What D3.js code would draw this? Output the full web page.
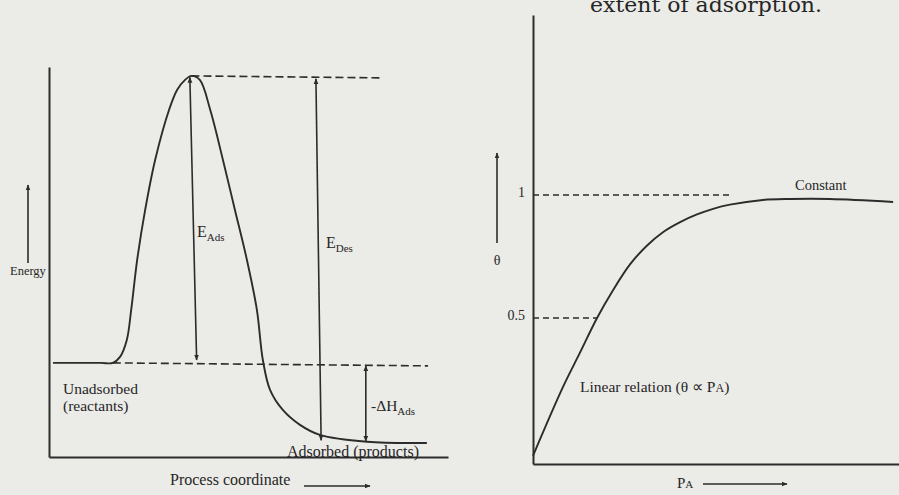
<!DOCTYPE html>
<html>
<head>
<meta charset="utf-8">
<script src="https://cdn.jsdelivr.net/npm/d3@7"></script>
<style>
  html, body { margin: 0; padding: 0; background: #ebebe7; }
  svg { display: block; }
  text { font-family: "Liberation Serif", "Times New Roman", serif; fill: #262626; }
</style>
</head>
<body>
<svg id="fig" width="899" height="495"></svg>
<script>
// ---- Energy profile of adsorption (left panel) ----
const processX = [1, 13, 16.0, 17.8, 19.5, 20.6, 22.1, 24.1, 26.6, 30.1, 32.1, 34.1, 35.7, 37.8, 40.4, 43.6, 46.6, 49.6, 52.1, 53.6, 55.4, 58.6, 62.9, 67.9, 79.7, 94.7];
const energy   = [0, 0, 0, 0.21, 0.80, 1.85, 3.59, 5.33, 7.07, 8.82, 9.51, 9.86, 10, 9.86, 8.82, 7.07, 5.33, 3.59, 1.85, 0.10, -0.94, -1.64, -2.16, -2.51, -2.75, -2.79];
const reactantLevel = 0;
const peakLevel = 10;
const productLevel = -2.75;
const peakX = 35.7;

// ---- Langmuir coverage vs pressure (right panel) ----
const pressure = [0, 8.2, 12.8, 17.5, 21.9, 26.5, 31.1, 35.5, 40.2, 44.8, 49.2, 53.8, 62.8, 70.2, 81.1, 98.4];
const coverage = [-0.06, 0.22, 0.358, 0.5, 0.614, 0.718, 0.794, 0.849, 0.890, 0.921, 0.944, 0.961, 0.980, 0.984, 0.984, 0.972];
const coverageTicks = [0.5, 1];
const coverageTickLabels = ["0.5", "1"];

const ink = "#2c2c2c";
const svg = d3.select("#fig");

// arrowhead marker
const defs = svg.append("defs");
defs.append("marker")
  .attr("id", "head")
  .attr("viewBox", "0 -5 10 10")
  .attr("refX", 9).attr("refY", 0)
  .attr("markerWidth", 6).attr("markerHeight", 6)
  .attr("markerUnits", "userSpaceOnUse")
  .attr("orient", "auto-start-reverse")
  .append("path").attr("d", "M0,-4L10,0L0,4Z").attr("fill", ink);

// caption fragment along the top edge
svg.append("text")
  .attr("x", 590).attr("y", 12)
  .attr("textLength", 232).attr("lengthAdjust", "spacingAndGlyphs")
  .style("font-family", "'DejaVu Serif', serif")
  .style("font-size", "21px")
  .attr("fill", "#333")
  .text("extent of adsorption.");

// ================= LEFT PANEL =================
const xL = d3.scaleLinear().domain([0, 100]).range([49, 448]);
const yE = d3.scaleLinear().domain([-3.28, 10.31]).range([457, 67]);

const gL = svg.append("g");

gL.append("g")
  .attr("transform", `translate(${xL(0)},0)`)
  .call(d3.axisLeft(yE).tickValues([]).tickSizeOuter(0))
  .call(g => g.select(".domain").attr("stroke", ink).attr("stroke-width", 2));
gL.append("g")
  .attr("transform", `translate(0,${yE.range()[0]})`)
  .call(d3.axisBottom(xL).tickValues([]).tickSizeOuter(0))
  .call(g => g.select(".domain").attr("stroke", ink).attr("stroke-width", 2));

// reference dashed levels
gL.append("line")
  .attr("x1", xL(peakX)).attr("x2", xL(83.5))
  .attr("y1", yE(peakLevel)).attr("y2", yE(peakLevel) + 2)
  .attr("stroke", ink).attr("stroke-width", 1.6).attr("stroke-dasharray", "8,4");
gL.append("line")
  .attr("x1", xL(16.0)).attr("x2", xL(95))
  .attr("y1", yE(reactantLevel)).attr("y2", yE(reactantLevel) + 3)
  .attr("stroke", ink).attr("stroke-width", 1.6).attr("stroke-dasharray", "8,4");

// energy curve
gL.append("path")
  .datum(processX.map((x, i) => [x, energy[i]]))
  .attr("fill", "none").attr("stroke", ink).attr("stroke-width", 1.9)
  .attr("d", d3.line().x(d => xL(d[0])).y(d => yE(d[1])).curve(d3.curveCatmullRom.alpha(0.5)));

// double-headed energy arrows
function dblArrow(g, x1, x2, e1, e2) {
  g.append("line")
    .attr("x1", xL(x1)).attr("x2", xL(x2))
    .attr("y1", yE(e1)).attr("y2", yE(e2))
    .attr("stroke", ink).attr("stroke-width", 1.6)
    .attr("marker-start", "url(#head)").attr("marker-end", "url(#head)");
}
dblArrow(gL, 35.3, 37.0, peakLevel - 0.05, reactantLevel + 0.1);
dblArrow(gL, 66.9, 68.2, peakLevel - 0.1, productLevel + 0.05);
dblArrow(gL, 79.4, 79.4, reactantLevel - 0.1, productLevel + 0.02);

// labels
function subLabel(g, x, y, main, sub, size, subSize) {
  const t = g.append("text").attr("x", x).attr("y", y).style("font-size", size + "px");
  t.append("tspan").text(main);
  t.append("tspan").attr("dy", 4).style("font-size", subSize + "px").text(sub);
  return t;
}
subLabel(gL, 197, 237, "E", "Ads", 16, 11);
subLabel(gL, 326, 248, "E", "Des", 16, 11);
subLabel(gL, 371, 411, "-\u0394H", "Ads", 15.5, 11);

gL.append("text").attr("x", 63).attr("y", 394).style("font-size", "15.5px").text("Unadsorbed");
gL.append("text").attr("x", 63).attr("y", 411).style("font-size", "15.5px").text("(reactants)");
gL.append("text").attr("x", 287).attr("y", 457).style("font-size", "16px").text("Adsorbed (products)");

// Energy axis title with upward arrow
gL.append("line")
  .attr("x1", 28).attr("x2", 28).attr("y1", 263).attr("y2", 185)
  .attr("stroke", ink).attr("stroke-width", 1.6).attr("marker-end", "url(#head)");
gL.append("text").attr("x", 10).attr("y", 275).style("font-size", "12.5px").text("Energy");

// Process coordinate title with arrow
gL.append("text").attr("x", 170).attr("y", 485).style("font-size", "16px").text("Process coordinate");
gL.append("line")
  .attr("x1", 304).attr("x2", 370).attr("y1", 486).attr("y2", 486)
  .attr("stroke", ink).attr("stroke-width", 1.4).attr("marker-end", "url(#head)");

// ================= RIGHT PANEL =================
const xP = d3.scaleLinear().domain([0, 100]).range([533, 899]);
const yT = d3.scaleLinear().domain([-0.0935, 1.732]).range([464, 15]);

const gR = svg.append("g");

gR.append("g")
  .attr("transform", `translate(${xP(0)},0)`)
  .call(d3.axisLeft(yT).tickValues(coverageTicks)
    .tickFormat((d, i) => coverageTickLabels[i])
    .tickSize(0).tickPadding(8).tickSizeOuter(0))
  .call(g => g.select(".domain").attr("stroke", ink).attr("stroke-width", 2))
  .call(g => g.selectAll(".tick text")
    .style("font-family", "'Liberation Serif', serif")
    .style("font-size", "14px").attr("fill", "#262626").attr("dy", "0.1em"));
gR.append("g")
  .attr("transform", `translate(0,${yT.range()[0]})`)
  .call(d3.axisBottom(xP).tickValues([]).tickSizeOuter(0))
  .call(g => g.select(".domain").attr("stroke", ink).attr("stroke-width", 2));

// dashed guides at coverage 1 and 0.5
gR.append("line")
  .attr("x1", xP(0)).attr("x2", xP(53.8))
  .attr("y1", yT(1)).attr("y2", yT(1))
  .attr("stroke", ink).attr("stroke-width", 1.5).attr("stroke-dasharray", "6,4");
gR.append("line")
  .attr("x1", xP(0)).attr("x2", xP(17.5))
  .attr("y1", yT(0.5)).attr("y2", yT(0.5))
  .attr("stroke", ink).attr("stroke-width", 1.5).attr("stroke-dasharray", "6,4");

// coverage curve
gR.append("path")
  .datum(pressure.map((p, i) => [p, coverage[i]]))
  .attr("fill", "none").attr("stroke", ink).attr("stroke-width", 1.9)
  .attr("d", d3.line().x(d => xP(d[0])).y(d => yT(d[1])).curve(d3.curveCatmullRom.alpha(0.5)));

gR.append("text").attr("x", 795).attr("y", 190).style("font-size", "14.5px").text("Constant");
const lin = gR.append("text").attr("x", 580).attr("y", 392).style("font-size", "15.5px");
lin.append("tspan").text("Linear relation (\u03b8 \u221d P");
lin.append("tspan").style("font-size", "12px").text("A");
lin.append("tspan").text(")");

// theta title with upward arrow
gR.append("line")
  .attr("x1", 497).attr("x2", 497).attr("y1", 243).attr("y2", 153)
  .attr("stroke", ink).attr("stroke-width", 1.6).attr("marker-end", "url(#head)");
gR.append("text").attr("x", 497).attr("y", 265).attr("text-anchor", "middle")
  .style("font-size", "14px").text("\u03b8");

// pressure title with arrow
const pa = gR.append("text").attr("x", 677).attr("y", 488).style("font-size", "15px");
pa.append("tspan").text("P");
pa.append("tspan").style("font-size", "11px").text("A");
gR.append("line")
  .attr("x1", 703).attr("x2", 787).attr("y1", 484).attr("y2", 484)
  .attr("stroke", ink).attr("stroke-width", 1.4).attr("marker-end", "url(#head)");
</script>
</body>
</html>
